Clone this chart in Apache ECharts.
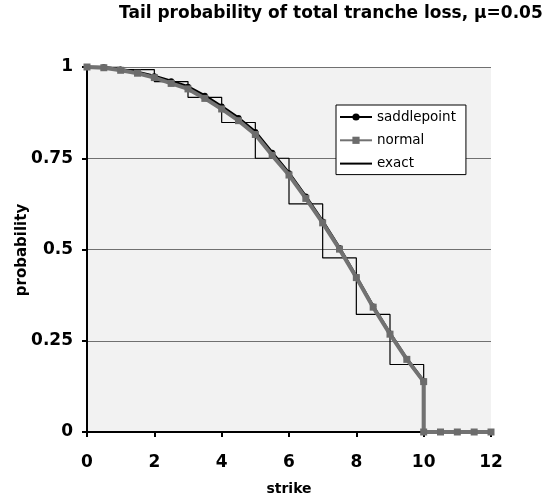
<!DOCTYPE html>
<html>
<head>
<meta charset="utf-8">
<script src="https://cdn.jsdelivr.net/npm/echarts@6/dist/echarts.min.js"></script>
<style>html,body{margin:0;padding:0;background:#fff}#c{width:547px;height:503px}</style>
</head>
<body>
<div id="c"></div>
<script>
const strikes = [0,0.5,1,1.5,2,2.5,3,3.5,4,4.5,5,5.5,6,6.5,7,7.5,8,8.5,9,9.5,10,10,10.5,11,11.5,12];
const normalValues = [1.000,0.998,0.991,0.983,0.971,0.955,0.940,0.914,0.885,0.853,0.815,0.758,0.704,0.640,0.573,0.501,0.423,0.342,0.268,0.199,0.138,0,0,0,0,0];
const saddleValues = [1.000,0.999,0.993,0.986,0.975,0.961,0.946,0.921,0.892,0.860,0.822,0.765,0.709,0.645,0.577,0.504,0.425,0.344,0.270,0.200,0.139,0,0,0,0,0];
const exactStrikes = [0,1,2,3,4,5,6,7,8,9,10,12];
const exactValues = [1.000,0.993,0.960,0.917,0.848,0.750,0.625,0.477,0.322,0.185,0,0];
const xTicks = [0,2,4,6,8,10,12];
const yTicks = [0,0.25,0.5,0.75,1];
const yName = 'probability';

const zip = (xs, ys) => xs.map((x, i) => [x, ys[i]]);
const BOLD = 'DejaVu Sans, sans-serif';

const chart = echarts.init(document.getElementById('c'), null, {renderer: 'canvas'});
chart.setOption({
  animation: false,
  backgroundColor: '#ffffff',
  title: {
    text: 'Tail probability of total tranche loss, \u03bc=0.05',
    left: 119, top: 5, padding: 0,
    textStyle: {fontFamily: BOLD, fontSize: 17, fontWeight: 'bold', color: '#000'}
  },
  graphic: [{
    type: 'text', x: 22, y: 250, rotation: Math.PI / 2,
    style: {text: yName, font: 'bold 15px DejaVu Sans, sans-serif', fill: '#000',
      textAlign: 'center', textVerticalAlign: 'middle'}
  }],
  legend: {
    orient: 'vertical',
    left: 336, top: 105,
    backgroundColor: '#ffffff',
    borderColor: '#000', borderWidth: 1, borderRadius: 0,
    padding: [5, 10, 4, 3],
    itemWidth: 32, itemHeight: 9, itemGap: 9.3,
    textStyle: {fontFamily: BOLD, fontSize: 13.5, color: '#000'},
    data: [
      'saddlepoint',
      'normal',
      {name: 'exact', itemStyle: {color: 'rgba(0,0,0,0)', borderWidth: 0}}
    ]
  },
  grid: {left: 87, right: 56, top: 67, bottom: 71, show: true, backgroundColor: '#f2f2f2', borderWidth: 0,
    containLabel: false, outerBoundsMode: 'none'},
  xAxis: {
    type: 'value', min: 0, max: 12, interval: 2,
    name: 'strike', nameLocation: 'middle', nameGap: 50,
    nameTextStyle: {fontFamily: BOLD, fontSize: 14, fontWeight: 'bold', color: '#000'},
    axisLine: {show: true, onZero: false, lineStyle: {color: '#000', width: 2}},
    axisTick: {show: true, length: 5, lineStyle: {color: '#000', width: 2}},
    axisLabel: {fontFamily: BOLD, fontSize: 17, fontWeight: 'bold', color: '#000', margin: 22,
      formatter: v => xTicks.includes(v) ? String(v) : ''},
    splitLine: {show: false}
  },
  yAxis: {
    type: 'value', min: 0, max: 1, interval: 0.25,
    axisLine: {show: true, onZero: false, lineStyle: {color: '#000', width: 2}},
    axisTick: {show: true, length: 5, lineStyle: {color: '#000', width: 2}},
    axisLabel: {fontFamily: BOLD, fontSize: 17, fontWeight: 'bold', color: '#000', margin: 14,
      formatter: v => yTicks.includes(v) ? String(v) : ''},
    splitLine: {show: true, lineStyle: {color: '#707070', width: 1}}
  },
  series: [
    {
      name: 'exact', type: 'line', step: 'end',
      data: zip(exactStrikes, exactValues),
      showSymbol: false, symbol: 'none',
      lineStyle: {color: '#000', width: 1.2},
      itemStyle: {color: '#000'}, z: 2
    },
    {
      name: 'saddlepoint', type: 'line',
      data: zip(strikes, saddleValues),
      symbol: 'circle', symbolSize: 6, showAllSymbol: true,
      lineStyle: {color: '#000', width: 3},
      itemStyle: {color: '#000'}, z: 3
    },
    {
      name: 'normal', type: 'line',
      data: zip(strikes, normalValues),
      symbol: 'rect', symbolSize: 7, showAllSymbol: true,
      lineStyle: {color: '#727272', width: 4},
      itemStyle: {color: '#6c6c6c'}, z: 4
    }
  ]
});
</script>
</body>
</html>
